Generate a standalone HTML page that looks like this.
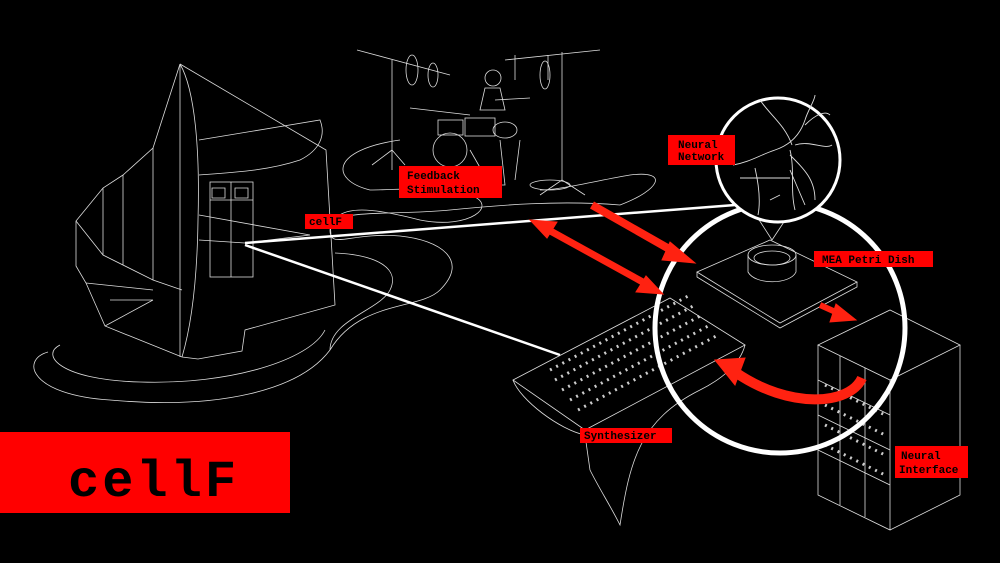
<!DOCTYPE html>
<html><head><style>
html,body{margin:0;padding:0;background:#000;width:1000px;height:563px;overflow:hidden}
svg{display:block}
.lb{font-family:"Liberation Mono",monospace;font-size:11px;font-weight:bold;fill:#000}
</style></head><body>
<svg width="1000" height="563" viewBox="0 0 1000 563" xmlns="http://www.w3.org/2000/svg">
<g fill="none" stroke="#ddd" stroke-width="0.8">
<path d="M48 352 C20 360 30 395 110 400 C220 410 300 390 330 350 C360 300 420 310 440 290 C470 260 440 240 400 236 C350 232 330 250 330 230 C335 200 380 210 420 220 C470 230 500 205 470 195 C440 185 400 190 370 190 C330 180 330 150 400 140"/>
<path d="M60 345 C40 355 60 380 140 382 C230 385 310 360 325 330"/>
<path d="M330 220 C360 210 400 215 450 210 C500 205 560 200 620 205 C660 190 670 170 630 175 C600 180 560 190 540 190"/>
<path d="M335 253 C380 255 400 270 390 290 C380 310 330 320 330 350"/>
<path d="M180 64 L153 148 L123 175 L103 188 L76 221 L76 266 L86 283 L105 326 L182 357 L198 359 L242 351 L245 330 L335 305 L326 150 L180 64"/>
<path d="M180 64 C195 90 200 150 198 220 C197 290 190 330 182 357"/>
<path d="M180 64 L180 357 M153 148 L153 280 M123 175 L123 265 M103 188 L103 255 M76 221 L103 255 L153 280 L182 290"/>
<path d="M86 283 L153 290 M105 326 L153 300 M110 300 L153 300"/>
<path d="M199 140 L320 120 C326 135 320 150 300 160 C270 170 240 172 199 175"/>
<rect x="210" y="182" width="43" height="95"/>
<path d="M231 182 L231 277 M210 200 L253 200 M212 188 h13 v10 h-13z M235 188 h13 v10 h-13z"/>
<path d="M199 215 L310 235 L245 243 L199 240"/>
<path d="M357 50 L450 75 M392 60 L392 150 L372 165 M392 150 L405 165 M392 150 L392 170"/>
<ellipse cx="412" cy="70" rx="6" ry="15"/><ellipse cx="433" cy="75" rx="5" ry="12"/>
<path d="M505 60 L600 50 M562 52 L562 180 L540 195 M562 180 L585 195 M515 55 L515 80 M548 55 L548 80"/>
<ellipse cx="545" cy="75" rx="5" ry="14"/>
<path d="M410 108 L470 115 M495 100 L530 98"/>
<circle cx="493" cy="78" r="8"/>
<path d="M485 88 L480 110 L505 110 L500 88 Z"/>
<ellipse cx="450" cy="150" rx="17" ry="17"/>
<rect x="438" y="120" width="25" height="15"/><rect x="465" y="118" width="30" height="18"/>
<ellipse cx="505" cy="130" rx="12" ry="8"/>
<path d="M470 150 L490 185 M500 140 L505 185 L490 185 M520 140 L515 180"/>
<ellipse cx="550" cy="185" rx="20" ry="5"/>
<path d="M513 380 L670 298 L745 345 L585 430 Z"/>
<path d="M513 380 C520 400 560 430 585 435 L590 470 C600 490 610 505 620 525 C630 460 640 420 700 390 C720 380 740 365 745 345"/>
<path d="M697 272 L770 240 L857 282 L780 323 Z"/>
<path d="M697 272 L697 277 L780 328 L857 287 L857 282"/>
<ellipse cx="772" cy="255" rx="24" ry="10"/>
<path d="M748 255 L748 272 C755 285 790 285 796 272 L796 255"/>
<ellipse cx="772" cy="258" rx="18" ry="7"/>
<path d="M818 345 L890 310 L960 345 L890 380 Z"/>
<path d="M818 345 L818 495 L890 530 L890 380 M960 345 L960 495 L890 530"/>
<path d="M818 380 L890 415 M818 415 L890 450 M818 450 L890 485 M840 356 L840 505 M865 368 L865 517"/>
<path d="M772 240 L727 170 M772 240 L815 175"/>
</g>
<g fill="none" stroke="#ccc" stroke-width="0.8">
<path d="M550 370 l140 -75 M555 380 l140 -75 M562 390 l140 -75 M570 400 l140 -75 M578 410 l140 -75" stroke-dasharray="2 5" stroke-width="3"/>
<path d="M825 385 l60 30 M825 405 l60 30 M825 425 l60 30 M825 445 l60 30" stroke-dasharray="2 5" stroke-width="3"/>
</g>
<g stroke="#fff" fill="none">
<path d="M245 243 L735 205" stroke-width="2.5"/>
<path d="M245 245 L560 355" stroke-width="2.5"/>
<circle cx="780" cy="328" r="125" stroke-width="5"/>
<circle cx="778" cy="160" r="62" stroke-width="3" fill="#000"/>
</g>
<g fill="none" stroke="#ddd" stroke-width="0.9">
<path d="M733 165 C750 162 760 155 775 150 C790 145 800 135 805 120 C808 110 815 100 815 95 M790 150 C795 170 790 190 795 210 M790 155 C805 170 815 180 815 200 M795 145 C810 140 825 150 832 145 M755 168 C760 190 760 205 758 215 M740 178 L790 178 M790 170 L805 205 M770 200 L780 195 M805 125 C815 115 825 110 830 115 M760 100 C770 115 785 125 792 145"/>
</g>
<g stroke="#f21" fill="#f21">
<path d="M592 205 L678 254" stroke-width="8"/>
<polygon points="670,242 695,263 662,260"/>
<path d="M545 228 L650 286" stroke-width="7"/>
<polygon points="530,220 557,222 547,238"/>
<polygon points="663,294 636,292 646,276"/>
<path d="M820 305 L840 314" stroke-width="6"/>
<polygon points="836,304 856,320 830,322"/>
<path d="M862 378 C850 405 790 410 735 372" stroke-width="10" fill="none"/>
<polygon points="715,360 745,358 735,385"/>
</g>
<rect x="0" y="432" width="290" height="81" fill="#f00"/>
<text x="68" y="496" font-family="Liberation Mono,monospace" font-size="52" font-weight="bold" fill="#000" letter-spacing="3">cellF</text>
<rect x="305" y="214" width="48" height="15" fill="#f00"/><text class="lb" x="309" y="225">cellF</text>
<rect x="399" y="166" width="103" height="32" fill="#f00"/><text class="lb" x="407" y="179">Feedback</text><text class="lb" x="407" y="193">Stimulation</text>
<rect x="668" y="135" width="67" height="30" fill="#f00"/><text class="lb" x="678" y="148">Neural</text><text class="lb" x="678" y="160">Network</text>
<rect x="814" y="251" width="119" height="16" fill="#f00"/><text class="lb" x="822" y="263">MEA Petri Dish</text>
<rect x="580" y="428" width="92" height="15" fill="#f00"/><text class="lb" x="584" y="439">Synthesizer</text>
<rect x="895" y="446" width="73" height="32" fill="#f00"/><text class="lb" x="901" y="459">Neural</text><text class="lb" x="899" y="473">Interface</text>
</svg>
</body></html>
